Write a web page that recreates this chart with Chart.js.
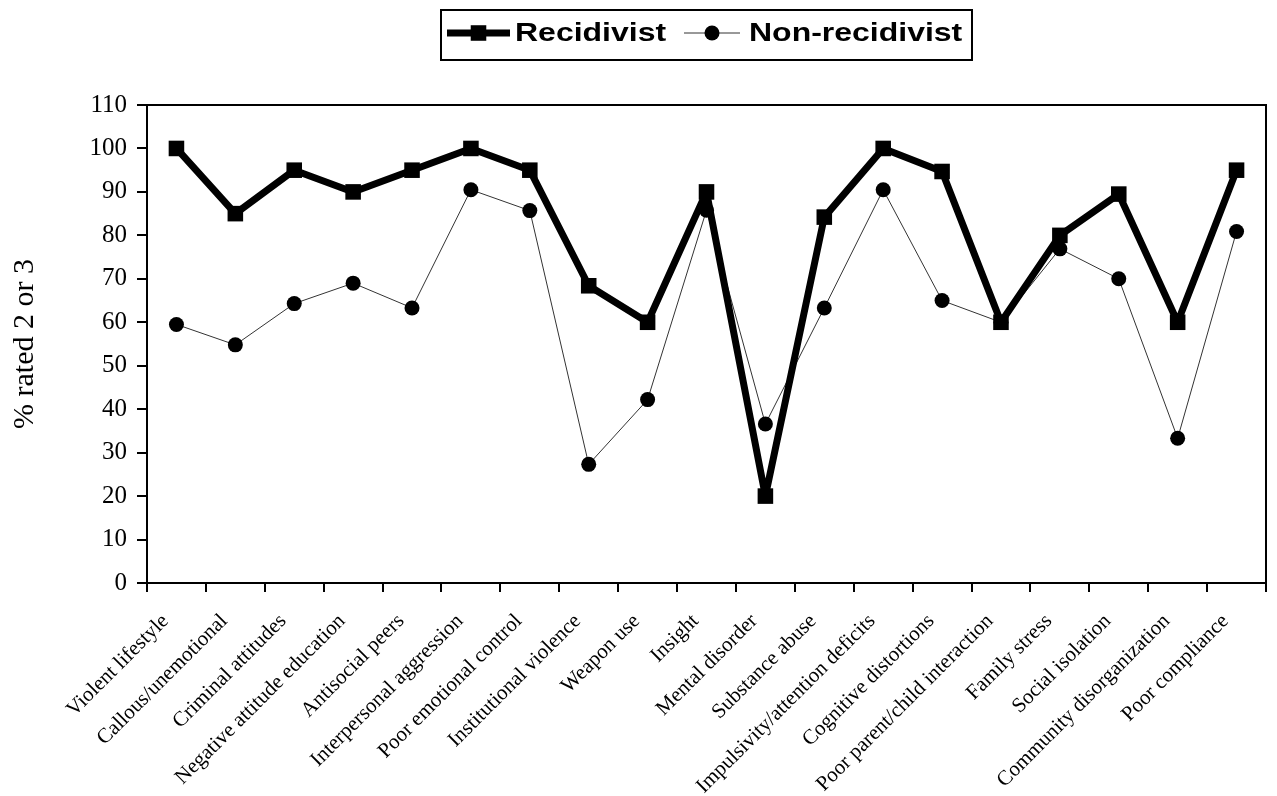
<!DOCTYPE html>
<html>
<head>
<meta charset="utf-8">
<script src="https://cdn.jsdelivr.net/npm/chart.js@4.4.0/dist/chart.umd.min.js"></script>
<style>
  html, body { margin: 0; padding: 0; background: #fff; }
  #wrap { width: 1277px; height: 796px; }
</style>
</head>
<body>
<div id="wrap"><canvas id="chart" width="1277" height="796"></canvas></div>
<script>
const categories = [
    'Violent lifestyle', 'Callous/unemotional', 'Criminal attitudes', 'Negative attitude education',
    'Antisocial peers', 'Interpersonal aggression', 'Poor emotional control', 'Institutional violence',
    'Weapon use', 'Insight', 'Mental disorder', 'Substance abuse', 'Impulsivity/attention deficits',
    'Cognitive distortions', 'Poor parent/child interaction', 'Family stress', 'Social isolation',
    'Community disorganization', 'Poor compliance'
];
const recidivist    = [100, 85, 95, 90, 95, 100, 95, 68.4, 60, 90, 20, 84.2, 100, 94.7, 60, 80, 89.5, 60, 95];
const nonRecidivist = [59.5, 54.8, 64.3, 69, 63.3, 90.5, 85.7, 27.3, 42.2, 85.8, 36.6, 63.3, 90.5, 65, 60, 76.9, 70, 33.3, 80.9];
const yMin = 0, yMax = 110, yStep = 10;
const seriesNames = ['Recidivist', 'Non-recidivist'];

const serif = '"Liberation Serif", "Times New Roman", serif';

// box round the plot + legend box at the top
const framePlugin = {
    id: 'frame',
    afterDraw(chart) {
        const ctx = chart.ctx;
        const a = chart.chartArea;
        ctx.save();
        ctx.strokeStyle = '#000';
        ctx.lineWidth = 2;
        ctx.beginPath();
        ctx.moveTo(a.left, a.top);
        ctx.lineTo(a.right, a.top);
        ctx.lineTo(a.right, a.bottom);
        ctx.stroke();

        // legend
        ctx.strokeRect(441, 10, 531, 50);
        ctx.font = 'bold 26px "Liberation Sans", Arial, sans-serif';
        ctx.textBaseline = 'middle';

        const items = [
            { ds: chart.data.datasets[0], x0: 447, x1: 510, tx: 515 },
            { ds: chart.data.datasets[1], x0: 684, x1: 740, tx: 749 }
        ];
        const y = 33;
        items.forEach(it => {
            ctx.strokeStyle = it.ds.borderColor;
            ctx.lineWidth = it.ds.borderWidth;
            ctx.beginPath();
            ctx.moveTo(it.x0, y);
            ctx.lineTo(it.x1, y);
            ctx.stroke();
            ctx.fillStyle = '#000';
            Chart.helpers.drawPoint(ctx, {
                pointStyle: it.ds.pointStyle,
                radius: it.ds.pointRadius,
                rotation: 0,
                borderWidth: 0
            }, (it.x0 + it.x1) / 2, y);
            ctx.save();
            ctx.translate(it.tx, y + 1);
            ctx.scale(1.23, 1);
            ctx.fillText(it.ds.label, 0, 0);
            ctx.restore();
        });
        ctx.restore();
    }
};

new Chart(document.getElementById('chart'), {
    type: 'line',
    data: {
        labels: categories,
        datasets: [
            {
                label: seriesNames[0],
                data: recidivist,
                borderColor: '#000',
                backgroundColor: '#000',
                borderWidth: 7,
                borderJoinStyle: 'round',
                pointStyle: 'rect',
                pointRadius: 11,
                pointBorderWidth: 0,
                pointBackgroundColor: '#000',
                tension: 0,
                order: 1
            },
            {
                label: seriesNames[1],
                data: nonRecidivist,
                borderColor: '#333',
                backgroundColor: '#000',
                borderWidth: 1,
                pointStyle: 'circle',
                pointRadius: 7.5,
                pointBorderWidth: 0,
                pointBackgroundColor: '#000',
                tension: 0,
                order: 2
            }
        ]
    },
    options: {
        responsive: false,
        animation: false,
        layout: { padding: { top: 105, right: 3, left: 0, bottom: 0 } },
        plugins: {
            legend: { display: false },
            tooltip: { enabled: false }
        },
        scales: {
            x: {
                offset: true,
                grid: {
                    offset: true,
                    drawOnChartArea: false,
                    drawTicks: true,
                    tickLength: 9,
                    color: '#000',
                    lineWidth: 2
                },
                border: { display: true, color: '#000', width: 2 },
                ticks: {
                    autoSkip: false,
                    maxRotation: 45,
                    minRotation: 45,
                    padding: 17,
                    labelOffset: -11,
                    color: '#000',
                    font: { family: serif, size: 21 }
                },
                afterFit(scale) { scale.height = 213; }
            },
            y: {
                min: yMin,
                max: yMax,
                ticks: {
                    stepSize: yStep,
                    padding: 10,
                    color: '#000',
                    font: { family: serif, size: 25 }
                },
                grid: {
                    drawOnChartArea: false,
                    drawTicks: true,
                    tickLength: 10,
                    color: '#000',
                    lineWidth: 2
                },
                border: { display: true, color: '#000', width: 2 },
                title: {
                    display: true,
                    text: '% rated 2 or 3',
                    color: '#000',
                    padding: { top: 7, bottom: 0 },
                    font: { family: serif, size: 30 }
                },
                afterFit(scale) { scale.width = 147; }
            }
        }
    },
    plugins: [framePlugin]
});
</script>
</body>
</html>
